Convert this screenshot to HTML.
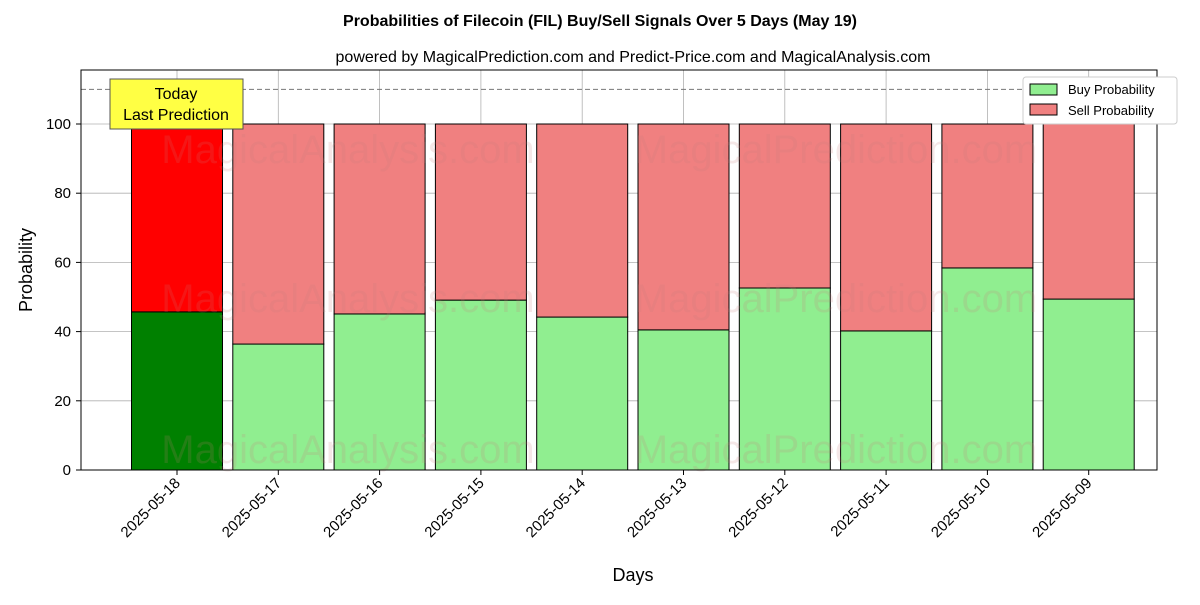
<!DOCTYPE html>
<html><head><meta charset="utf-8"><style>
body{margin:0;background:#fff;font-family:"Liberation Sans","DejaVu Sans",sans-serif}
</style></head><body>
<svg id="chart" width="1200" height="600" xmlns="http://www.w3.org/2000/svg">
<text x="600" y="26" text-anchor="middle" font-size="16" font-weight="bold">Probabilities of Filecoin (FIL) Buy/Sell Signals Over 5 Days (May 19)</text>
<text x="633" y="62" text-anchor="middle" font-size="16">powered by MagicalPrediction.com and Predict-Price.com and MagicalAnalysis.com</text>
<g id="grid"></g>
<g id="bars"></g>
<g id="wm" font-size="40" fill="rgba(200,120,120,0.18)">
<text x="348" y="163" text-anchor="middle">MagicalAnalysis.com</text>
<text x="836" y="163" text-anchor="middle">MagicalPrediction.com</text>
<text x="348" y="312" text-anchor="middle">MagicalAnalysis.com</text>
<text x="836" y="312" text-anchor="middle">MagicalPrediction.com</text>
<text x="348" y="463" text-anchor="middle">MagicalAnalysis.com</text>
<text x="836" y="463" text-anchor="middle">MagicalPrediction.com</text>
</g>
<line x1="81" x2="1157" y1="89.4" y2="89.4" stroke="#777" stroke-dasharray="5,3"/>
<rect x="81" y="70" width="1076" height="400" fill="none" stroke="#000" stroke-width="1"/>
<g id="axes"></g>
<g>
<rect x="110" y="79" width="133" height="50" fill="#ffff44" stroke="#555"/>
<text x="176" y="99" text-anchor="middle" font-size="16">Today</text>
<text x="176" y="120" text-anchor="middle" font-size="16">Last Prediction</text>
</g>
<g>
<rect x="1023" y="77" width="154" height="47" fill="#fff" stroke="#ccc" rx="3"/>
<rect x="1030" y="84" width="27" height="11" fill="#90ee90" stroke="#000"/>
<text x="1068" y="94" font-size="13">Buy Probability</text>
<rect x="1030" y="104" width="27" height="11" fill="#f08080" stroke="#000"/>
<text x="1068" y="115" font-size="13">Sell Probability</text>
</g>
<text x="633" y="581" text-anchor="middle" font-size="18">Days</text>
<text transform="translate(32,270) rotate(-90)" text-anchor="middle" font-size="18">Probability</text>
</svg>
<script>
const categories=["2025-05-18","2025-05-17","2025-05-16","2025-05-15","2025-05-14","2025-05-13","2025-05-12","2025-05-11","2025-05-10","2025-05-09"];
const buyValues=[45.7,36.4,45.1,49.1,44.2,40.5,52.6,40.2,58.4,49.4];
const sellValues=buyValues.map(v=>100-v);
const yTicks=[0,20,40,60,80,100];
const NS="http://www.w3.org/2000/svg";
const y=v=>470-v*3.46;
const x=i=>177+i*101.3;
const bw=91;
function mk(tag,attrs,parent){const e=document.createElementNS(NS,tag);for(const k in attrs)e.setAttribute(k,attrs[k]);document.getElementById(parent).appendChild(e);return e;}
yTicks.forEach(t=>{
 const g=mk("line",{x1:81,x2:1157,y1:y(t),y2:y(t),stroke:"#b0b0b0","stroke-width":0.8},"grid");
 
 
 const tk=mk("line",{x1:76,x2:81,y1:y(t),y2:y(t),stroke:"#000"},"axes");
 
 
 const tl=mk("text",{x:71,y:y(t)+5,"text-anchor":"end","font-size":15},"axes");
 tl.textContent=t;
 
 
});
categories.forEach((c,i)=>{
 const g=mk("line",{x1:x(i),x2:x(i),y1:70,y2:470,stroke:"#b0b0b0","stroke-width":0.8},"grid");
 
 
 const b=mk("rect",{x:x(i)-bw/2,y:y(buyValues[i]),width:bw,height:470-y(buyValues[i]),fill:i==0?"#008000":"#90ee90",stroke:"#000","stroke-width":1},"bars");
 
 
 const s=mk("rect",{x:x(i)-bw/2,y:y(100),width:bw,height:y(buyValues[i])-y(100),fill:i==0?"#ff0000":"#f08080",stroke:"#000","stroke-width":1},"bars");
 
 
 const tk=mk("line",{x1:x(i),x2:x(i),y1:470,y2:475,stroke:"#000"},"axes");
 
 
 const tl=mk("text",{x:x(i)+4,y:484,"text-anchor":"end","font-size":15,transform:`rotate(-45 ${x(i)+4} 484)`},"axes");
 tl.textContent=c;
 
 
});
</script>
</body></html>
